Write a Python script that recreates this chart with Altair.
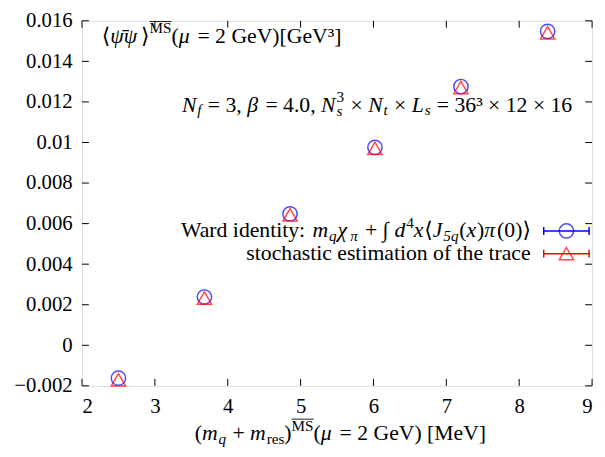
import altair as alt
import pandas as pd

# ---- data ----
mass = [2.50, 3.68, 4.855, 6.02, 7.20, 8.39]
ward = [-0.00162, 0.00238, 0.00648, 0.00976, 0.01276, 0.01548]
stoch = [-0.00170, 0.00233, 0.00643, 0.00971, 0.01271, 0.01541]
x_ticks = [2, 3, 4, 5, 6, 7, 8, 9]
y_ticks = [-0.002, 0.0, 0.002, 0.004, 0.006, 0.008, 0.01, 0.012, 0.014, 0.016]
methods = ["Ward identity", "stochastic estimation of the trace"]
colors = ["blue", "red"]
shapes = ["circle", "triangle-up"]

W, H = 517, 370
FONT = "'Liberation Serif', 'DejaVu Serif', serif"
FS = 22      # annotation text
TFS = 21     # tick labels
WF = 1.0     # width calibration

# ---- rich-text helper (approximate Times metrics, 1/1000 em) ----
ROMAN = dict(zip("abcdefghijklmnopqrstuvwxyz",
                 [444, 500, 444, 500, 444, 333, 500, 500, 278, 278, 500, 278, 778,
                  500, 500, 500, 500, 333, 389, 278, 500, 500, 722, 500, 500, 444]))
ROMAN.update(dict(zip("ABCDEFGHIJKLMNOPQRSTUVWXYZ",
                      [722, 667, 667, 722, 611, 556, 722, 722, 333, 389, 722, 611, 889,
                       722, 722, 556, 722, 667, 556, 611, 722, 722, 944, 722, 722, 611])))
ROMAN.update({" ": 250, "(": 333, ")": 333, "[": 333, "]": 333, "+": 564, "=": 564,
              ",": 250, ".": 250, ":": 278, "\u00d7": 564, "\u00b3": 300, "\u2074": 300,
              "\u222b": 300, "\u27e8": 390, "\u27e9": 390, "\u0304": 0})
for dgt in "0123456789":
    ROMAN[dgt] = 500
ITAL = dict(ROMAN)
ITAL.update({"m": 722, "q": 500, "x": 444, "d": 500, "f": 278, "s": 389, "t": 278,
             "J": 444, "L": 556, "N": 667, "M": 833})
GREEK = {"\u03c8": 690, "\u03c7": 550, "\u03c0": 550, "\u03bc": 576, "\u03b2": 550}
ROMAN.update(GREEK)
ITAL.update(GREEK)


def tw(s, italic, size):
    tab = ITAL if italic else ROMAN
    return WF * sum(tab.get(c, 500) for c in s) / 1000.0 * size


def rich(segs, x, y, align="left", size=FS):
    """segs: (text, kind) kind in r, i, sub, subr, sup, supo, both(sub,sup)."""
    small = size * 0.7
    parts = []
    cx = 0.0
    for seg in segs:
        txt, kind = seg[0], seg[1]
        if kind == "both":
            w = max(tw(txt[0], True, small), tw(txt[1], False, small))
            parts.append((cx, txt[0], small, True, 0.2 * size, False))
            parts.append((cx, txt[1], small, False, -0.42 * size, False))
            cx += w + 0.05 * size
            continue
        italic = kind in ("i", "sub")
        sz = size if kind in ("r", "i") else small
        dy = 0.0
        if kind in ("sub", "subr"):
            dy = 0.18 * size
        elif kind in ("sup", "supo"):
            dy = -0.42 * size
        w = tw(txt, italic, sz)
        parts.append((cx, txt, sz, italic, dy, kind == "supo"))
        cx += w + (0.04 * size if italic else 0)
    total = cx
    x0 = x if align == "left" else (x - total if align == "right" else x - total / 2)
    layers = []
    for (px, txt, sz, italic, dy, over) in parts:
        lead = len(txt) - len(txt.lstrip(" "))
        shown = txt.strip(" ")
        ox = x0 + px + tw(" " * lead, italic, sz)
        layers.append(alt.Chart(pd.DataFrame({"s": [shown]})).mark_text(
            align="left", baseline="alphabetic", font=FONT, fontSize=sz,
            fontStyle="italic" if italic else "normal", color="black"
        ).encode(x=alt.value(ox), y=alt.value(y + dy), text="s:N"))
        if over:
            wv = tw(shown, italic, sz)
            layers.append(alt.Chart(pd.DataFrame({"s": [shown]})).mark_rule(
                color="black", strokeWidth=0.9).encode(
                x=alt.value(ox), x2=alt.value(ox + wv), y=alt.value(y + dy - 0.78 * sz)))
    return layers


rows = []
for m, a, b in zip(mass, ward, stoch):
    rows.append({"mass": m, "val": a, "method": methods[0]})
    rows.append({"mass": m, "val": b, "method": methods[1]})
df = pd.DataFrame(rows)

xscale = alt.Scale(domain=[2, 9], nice=False, zero=False)
yscale = alt.Scale(domain=[-0.002, 0.016], nice=False, zero=False)
xaxis = alt.Axis(values=x_ticks, format="d", ticks=False, domain=False, grid=False,
                 labelPadding=10, labelFontSize=TFS, labelFont=FONT, labelColor="black",
                 title=None)
yaxis = alt.Axis(values=y_ticks, format="~g", ticks=False, domain=False, grid=False,
                 labelPadding=10, labelFontSize=TFS, labelFont=FONT, labelColor="black",
                 title=None)

pts = alt.Chart(df).mark_point(filled=False, size=210, strokeWidth=1.5).encode(
    x=alt.X("mass:Q", scale=xscale, axis=xaxis),
    y=alt.Y("val:Q", scale=yscale, axis=yaxis),
    color=alt.Color("method:N", scale=alt.Scale(domain=methods, range=colors), legend=None),
    shape=alt.Shape("method:N", scale=alt.Scale(domain=methods, range=shapes), legend=None),
)

xt = pd.DataFrame({"t": x_ticks})
yt = pd.DataFrame({"t": y_ticks})
L = 7
tick_layers = [
    alt.Chart(xt).mark_rule(color="black").encode(
        x=alt.X("t:Q", scale=xscale, axis=xaxis), y=alt.value(H), y2=alt.value(H - L)),
    alt.Chart(xt).mark_rule(color="black").encode(
        x=alt.X("t:Q", scale=xscale, axis=xaxis), y=alt.value(0), y2=alt.value(L)),
    alt.Chart(yt).mark_rule(color="black").encode(
        y=alt.Y("t:Q", scale=yscale, axis=yaxis), x=alt.value(0), x2=alt.value(L)),
    alt.Chart(yt).mark_rule(color="black").encode(
        y=alt.Y("t:Q", scale=yscale, axis=yaxis), x=alt.value(W - L), x2=alt.value(W)),
]

texts = []
texts += rich([("\u27e8", "r"), ("\u03c8\u0304\u03c8", "i"), ("\u27e9", "r"), ("MS", "supo"),
               ("(", "r"), ("\u03bc", "i"), (" = 2 GeV)[GeV\u00b3]", "r")], 20, 22, "left")
texts += rich([("N", "i"), ("f", "sub"), (" = 3, ", "r"), ("\u03b2", "i"), (" = 4.0, ", "r"),
               ("N", "i"), (("s", "3"), "both"), (" \u00d7 ", "r"), ("N", "i"), ("t", "sub"),
               (" \u00d7 ", "r"), ("L", "i"), ("s", "sub"),
               (" = 36\u00b3 \u00d7 12 \u00d7 16", "r")], 497, 92, "right")
# x-axis title
texts += rich([("(", "r"), ("m", "i"), ("q", "sub"), (" + ", "r"), ("m", "i"), ("res", "subr"),
               (")", "r"), ("MS", "supo"), ("(", "r"), ("\u03bc", "i"),
               (" = 2 GeV) [MeV]", "r")], 262, 425, "center")

legend_rich = [
    [("Ward identity: ", "r"), ("m", "i"), ("q", "sub"), ("\u03c7", "i"), ("\u03c0", "sub"),
     (" + \u222b ", "r"), ("d", "i"), ("4", "sup"), ("x", "i"), ("\u27e8", "r"), ("J", "i"),
     ("5q", "sub"), ("(", "r"), ("x", "i"), (")", "r"), ("\u03c0", "i"), ("(0)\u27e9", "r")],
    [("stochastic estimation of the trace", "r")],
]

leg_layers = []
for i, (segs, col, shp) in enumerate(zip(legend_rich, colors, shapes)):
    yy = 213 + 23 * i
    d = pd.DataFrame({"s": [methods[i]]})
    leg_layers += rich(segs, 455, yy + 6, "right")
    leg_layers.append(alt.Chart(d).mark_rule(color=col, strokeWidth=1.5).encode(
        x=alt.value(468), x2=alt.value(514), y=alt.value(yy)))
    leg_layers.append(alt.Chart(d).mark_rule(color=col, strokeWidth=1.5).encode(
        x=alt.value(468), y=alt.value(yy - 4), y2=alt.value(yy + 4)))
    leg_layers.append(alt.Chart(d).mark_rule(color=col, strokeWidth=1.5).encode(
        x=alt.value(514), y=alt.value(yy - 4), y2=alt.value(yy + 4)))
    leg_layers.append(alt.Chart(d).mark_point(color=col, shape=shp, filled=False,
                                              size=210, strokeWidth=1.5).encode(
        x=alt.value(491), y=alt.value(yy)))

chart = alt.layer(pts, *tick_layers, *texts, *leg_layers).properties(
    width=W, height=H,
    autosize=alt.AutoSizeParams(type="none"),
    padding={"left": 75, "top": 10, "right": 5, "bottom": 60},
).configure_view(stroke="black", strokeWidth=1.2).configure(background="white")

chart.save("out.html", embed_options={"renderer": "svg", "actions": False})
